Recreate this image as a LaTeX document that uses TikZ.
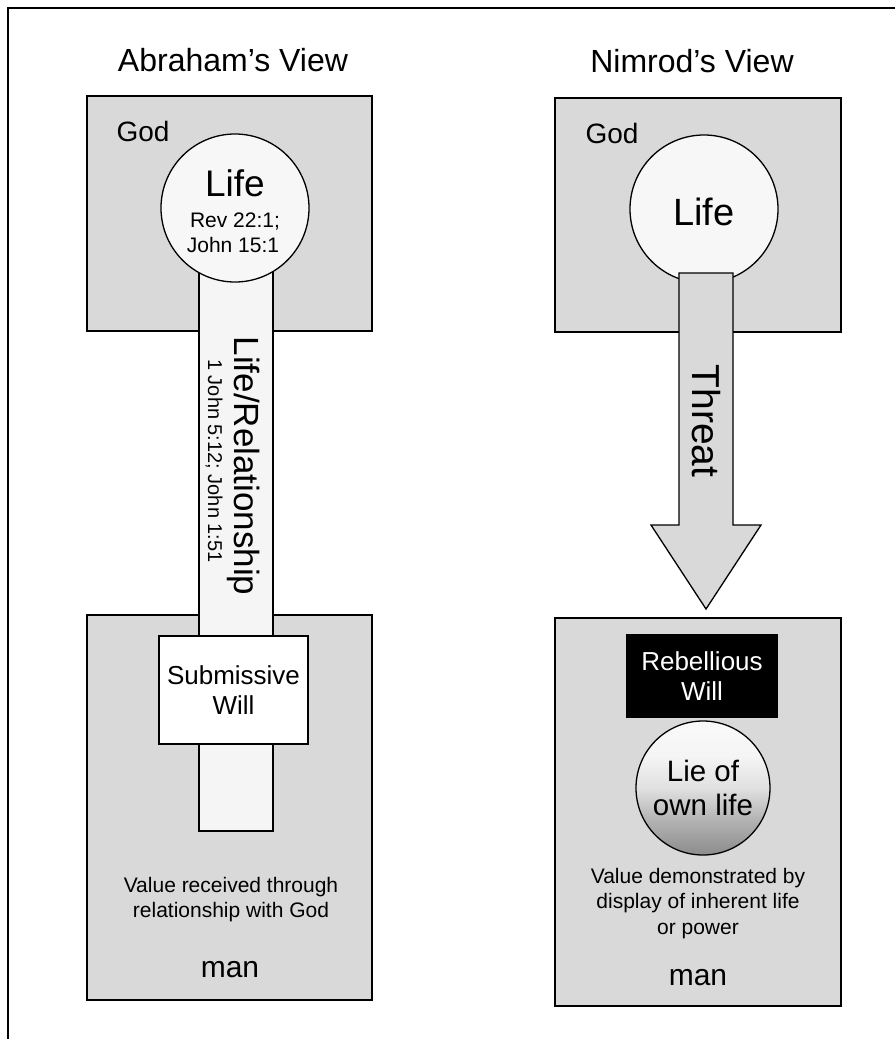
\documentclass[tikz,border=0pt]{standalone}
\usepackage{fontspec}
\setmainfont{Liberation Sans}
\pgfdeclareverticalshading{lieshade}{100bp}{color(0bp)=(black!45); color(25bp)=(black!45); color(38bp)=(black!30); color(50bp)=(black!12); color(62bp)=(black!4); color(75bp)=(black!2); color(100bp)=(black!2)}
\begin{document}
\begin{tikzpicture}[x=1pt,y=-1pt,
  panel/.style={draw=black, line width=1.6pt, fill=black!15, inner sep=0pt},
  ball/.style={circle, draw=black, line width=1.3pt, fill=black!3, inner sep=0pt, minimum size=148pt},
  beam/.style={draw=black, line width=1.3pt, fill=black!4, inner sep=0pt},
  willbox/.style={draw=black, line width=1.3pt, inner sep=0pt, align=center, font=\fontsize{26}{30}\selectfont},
  fatarrow/.style={draw=black, line width=1.3pt, fill=black!15},
  title/.style={anchor=base, font=\fontsize{32}{36}\selectfont},
  godlbl/.style={anchor=base west, font=\fontsize{28}{32}\selectfont},
  small/.style={anchor=base, font=\fontsize{21}{25}\selectfont},
  manlbl/.style={anchor=base, font=\fontsize{30}{34}\selectfont}
]
\useasboundingbox (0,0) rectangle (895,1039);
\draw[line width=1.8pt] (895,8) -- (8,8) -- (8,1039);

% ---------- Abraham's View ----------
\node[title] (titleA) at (233,71) {Abraham’s View};
\node[panel, minimum width=285pt, minimum height=235pt] (godA) at (229.5,213.5) {};
\node[panel, minimum width=285pt, minimum height=385pt] (manA) at (229.5,807.5) {};
\node[beam, minimum width=74pt, minimum height=623pt] (barA) at (236,519.5) {};
\node[ball] (lifeA) at (235,208) {};
\node[willbox, fill=white, minimum width=149pt, minimum height=108pt] (subA) at (233.5,690) {Submissive\\Will};
\node[godlbl] (godAlbl) at (113,141) {God};
\node[anchor=base, font=\fontsize{37}{40}\selectfont] (lifeAt) at (235,196) {Life};
\node[anchor=base, font=\fontsize{21}{24}\selectfont] (revA) at (235,227) {Rev 22:1;};
\node[anchor=base, font=\fontsize{21}{24}\selectfont] (johnA) at (233,252) {John 15:1};
\node[anchor=base, rotate=-90, font=\fontsize{35}{38}\selectfont] (relA) at (234,466) {Life/Relationship};
\node[anchor=base, rotate=-90, font=\fontsize{20}{24}\selectfont] (refA) at (208,461) {1 John 5:12; John 1:51};
\node[small] (valA1) at (231,892) {Value received through};
\node[small] (valA2) at (231,917) {relationship with God};
\node[manlbl] (manAlbl) at (230,977) {man};

% ---------- Nimrod's View ----------
\node[title] (titleB) at (692,72) {Nimrod’s View};
\node[panel, minimum width=286pt, minimum height=234pt] (godB) at (698,215) {};
\node[panel, minimum width=286pt, minimum height=388pt] (manB) at (698,812) {};
\node[ball] (lifeB) at (704,209) {};
\coordinate (tipB) at (706,609);
\draw[fatarrow] (679,273) -- (733,273) -- (733,525) -- (761,525) -- (tipB) -- (651,525) -- (679,525) -- cycle;
\node[godlbl] (godBlbl) at (582,143) {God};
\node[anchor=base, font=\fontsize{38}{40}\selectfont] (lifeBt) at (704,225) {Life};
\node[anchor=base, rotate=-90, font=\fontsize{39}{42}\selectfont] (threat) at (692,421) {Threat};
\node[willbox, fill=black, text=white, minimum width=150pt, minimum height=82pt] (rebB) at (702,676) {Rebellious\\Will};
\node[circle, draw=black, line width=1.3pt, shading=lieshade, inner sep=0pt, minimum size=134pt, align=center, font=\fontsize{29.5}{34}\selectfont] (lieB) at (703,788) {Lie of\\own life};
\node[small] (valB1) at (698,883) {Value demonstrated by};
\node[small] (valB2) at (698,908) {display of inherent life};
\node[small] (valB3) at (698,934) {or power};
\node[manlbl] (manBlbl) at (698,985) {man};
\end{tikzpicture}
\end{document}
